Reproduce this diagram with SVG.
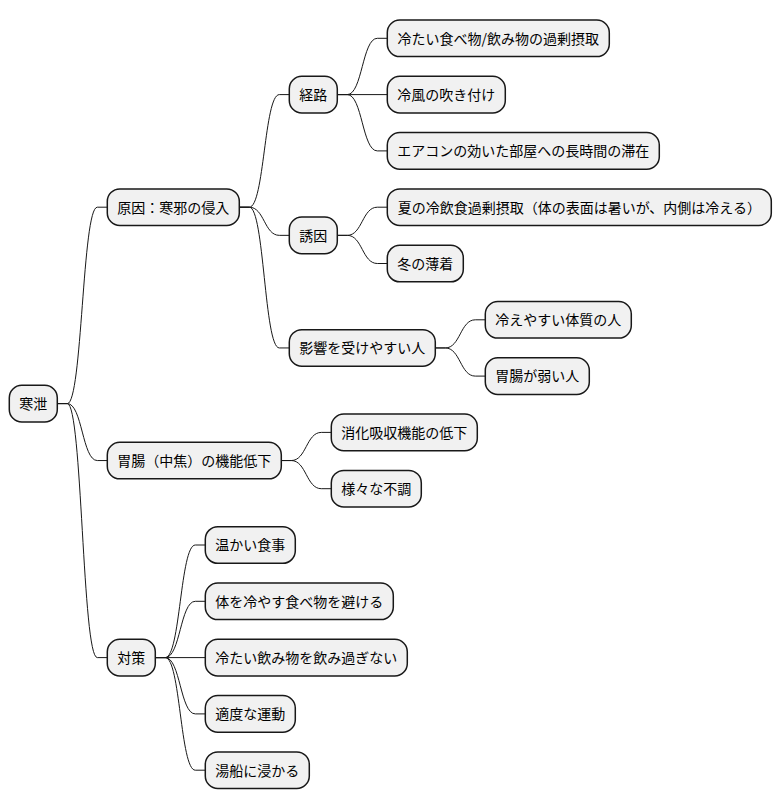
<svg xmlns="http://www.w3.org/2000/svg" width="782" height="809" viewBox="0 0 782 809">
<style>
.n rect{fill:#F1F1F1;stroke:#181818;stroke-width:1.5}
.n text{font-family:"Noto Sans CJK JP","Noto Sans",sans-serif;font-size:14px;fill:#000;text-anchor:middle}
#edges path{fill:none;stroke:#181818;stroke-width:1}
</style>
<rect width="782" height="809" fill="#FFFFFF"/>
<g id="edges">
<path d="M57.3,403.6 L67.3,403.6 C82.3,403.6 82.3,207.2 97.3,207.2 L107.3,207.2"/>
<path d="M57.3,403.6 L67.3,403.6 C82.3,403.6 82.3,460.55 97.3,460.55 L107.3,460.55"/>
<path d="M57.3,403.6 L67.3,403.6 C82.3,403.6 82.3,657.6 97.3,657.6 L107.3,657.6"/>
<path d="M239.3,207.2 L249.3,207.2 C264.3,207.2 264.3,94.6 279.3,94.6 L289.3,94.6"/>
<path d="M239.3,207.2 L249.3,207.2 C264.3,207.2 264.3,235.35 279.3,235.35 L289.3,235.35"/>
<path d="M239.3,207.2 L249.3,207.2 C264.3,207.2 264.3,347.95 279.3,347.95 L289.3,347.95"/>
<path d="M337.3,94.6 L347.3,94.6 C362.3,94.6 362.3,38.3 377.3,38.3 L387.3,38.3"/>
<path d="M337.3,94.6 L387.3,94.6"/>
<path d="M337.3,94.6 L347.3,94.6 C362.3,94.6 362.3,150.9 377.3,150.9 L387.3,150.9"/>
<path d="M337.3,235.35 L347.3,235.35 C362.3,235.35 362.3,207.2 377.3,207.2 L387.3,207.2"/>
<path d="M337.3,235.35 L347.3,235.35 C362.3,235.35 362.3,263.5 377.3,263.5 L387.3,263.5"/>
<path d="M435.3,347.95 L445.3,347.95 C460.3,347.95 460.3,319.8 475.3,319.8 L485.3,319.8"/>
<path d="M435.3,347.95 L445.3,347.95 C460.3,347.95 460.3,376.1 475.3,376.1 L485.3,376.1"/>
<path d="M281.3,460.55 L291.3,460.55 C306.3,460.55 306.3,432.4 321.3,432.4 L331.3,432.4"/>
<path d="M281.3,460.55 L291.3,460.55 C306.3,460.55 306.3,488.7 321.3,488.7 L331.3,488.7"/>
<path d="M155.3,657.6 L165.3,657.6 C180.3,657.6 180.3,545 195.3,545 L205.3,545"/>
<path d="M155.3,657.6 L165.3,657.6 C180.3,657.6 180.3,601.3 195.3,601.3 L205.3,601.3"/>
<path d="M155.3,657.6 L205.3,657.6"/>
<path d="M155.3,657.6 L165.3,657.6 C180.3,657.6 180.3,713.9 195.3,713.9 L205.3,713.9"/>
<path d="M155.3,657.6 L165.3,657.6 C180.3,657.6 180.3,770.2 195.3,770.2 L205.3,770.2"/>
</g>
<g id="root" class="n"><rect x="9.3" y="385.3" width="48" height="36.6" rx="12.5"/><text x="33.3" y="408.9">寒泄</text></g>
<g id="cause" class="n"><rect x="107.3" y="188.9" width="132" height="36.6" rx="12.5"/><text x="173.3" y="212.5">原因：寒邪の侵入</text></g>
<g id="stomach" class="n"><rect x="107.3" y="442.25" width="174" height="36.6" rx="12.5"/><text x="194.3" y="465.85">胃腸（中焦）の機能低下</text></g>
<g id="measures" class="n"><rect x="107.3" y="639.3" width="48" height="36.6" rx="12.5"/><text x="131.3" y="662.9">対策</text></g>
<g id="route" class="n"><rect x="289.3" y="76.3" width="48" height="36.6" rx="12.5"/><text x="313.3" y="99.9">経路</text></g>
<g id="trigger" class="n"><rect x="289.3" y="217.05" width="48" height="36.6" rx="12.5"/><text x="313.3" y="240.65">誘因</text></g>
<g id="susceptible" class="n"><rect x="289.3" y="329.65" width="146" height="36.6" rx="12.5"/><text x="362.3" y="353.25">影響を受けやすい人</text></g>
<g id="leaf0" class="n"><rect x="387.3" y="20" width="222" height="36.6" rx="12.5"/><text x="498.3" y="43.6">冷たい食べ物/飲み物の過剰摂取</text></g>
<g id="leaf1" class="n"><rect x="387.3" y="76.3" width="118" height="36.6" rx="12.5"/><text x="446.3" y="99.9">冷風の吹き付け</text></g>
<g id="leaf2" class="n"><rect x="387.3" y="132.6" width="272" height="36.6" rx="12.5"/><text x="523.3" y="156.2">エアコンの効いた部屋への長時間の滞在</text></g>
<g id="leaf3" class="n"><rect x="387.3" y="188.9" width="384" height="36.6" rx="12.5"/><text x="579.3" y="212.5">夏の冷飲食過剰摂取（体の表面は暑いが、内側は冷える）</text></g>
<g id="leaf4" class="n"><rect x="387.3" y="245.2" width="76" height="36.6" rx="12.5"/><text x="425.3" y="268.8">冬の薄着</text></g>
<g id="leaf5" class="n"><rect x="485.3" y="301.5" width="146" height="36.6" rx="12.5"/><text x="558.3" y="325.1">冷えやすい体質の人</text></g>
<g id="leaf6" class="n"><rect x="485.3" y="357.8" width="104" height="36.6" rx="12.5"/><text x="537.3" y="381.4">胃腸が弱い人</text></g>
<g id="leaf7" class="n"><rect x="331.3" y="414.1" width="146" height="36.6" rx="12.5"/><text x="404.3" y="437.7">消化吸収機能の低下</text></g>
<g id="leaf8" class="n"><rect x="331.3" y="470.4" width="90" height="36.6" rx="12.5"/><text x="376.3" y="494">様々な不調</text></g>
<g id="leaf9" class="n"><rect x="205.3" y="526.7" width="90" height="36.6" rx="12.5"/><text x="250.3" y="550.3">温かい食事</text></g>
<g id="leaf10" class="n"><rect x="205.3" y="583" width="188" height="36.6" rx="12.5"/><text x="299.3" y="606.6">体を冷やす食べ物を避ける</text></g>
<g id="leaf11" class="n"><rect x="205.3" y="639.3" width="202" height="36.6" rx="12.5"/><text x="306.3" y="662.9">冷たい飲み物を飲み過ぎない</text></g>
<g id="leaf12" class="n"><rect x="205.3" y="695.6" width="90" height="36.6" rx="12.5"/><text x="250.3" y="719.2">適度な運動</text></g>
<g id="leaf13" class="n"><rect x="205.3" y="751.9" width="104" height="36.6" rx="12.5"/><text x="257.3" y="775.5">湯船に浸かる</text></g>
</svg>
